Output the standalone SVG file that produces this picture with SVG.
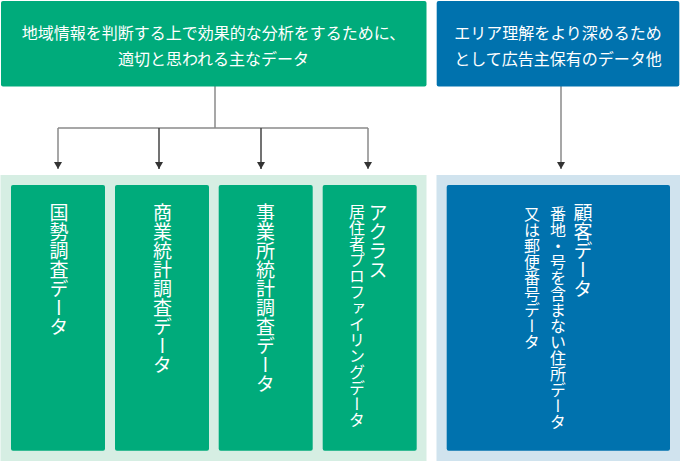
<svg xmlns="http://www.w3.org/2000/svg" width="680" height="461" viewBox="0 0 680 461">
<defs>
<style>
.g{fill:#00ab7b}
.b{fill:#0072ae}
.t{fill:#ffffff;font-family:"Noto Sans CJK JP","Noto Sans",sans-serif}
.h{font-size:16px;text-anchor:middle;dominant-baseline:central}
.v{writing-mode:vertical-rl;dominant-baseline:central}
.v1{font-size:19px}
.v2{font-size:16px}
.ln{fill:none;stroke:#8a8a8a;stroke-width:1.5}
.ld{fill:none;stroke:#444;stroke-width:1.5}
</style>
<marker id="ar" viewBox="0 -4 7 8" markerWidth="7" markerHeight="8" refX="7" refY="0" orient="auto" markerUnits="userSpaceOnUse">
<path d="M0,-4 L7,0 L0,4 z" fill="#333"/>
</marker>
</defs>
<rect x="0.5" y="175" width="426" height="286" fill="#d6eee3"/>
<rect x="436.5" y="175" width="243.5" height="286" fill="#d0e3ee"/>
<g id="connectors">
<path class="ln" d="M215,86 V128 M58,128 H368"/>
<path class="ln" d="M58,128 V169" marker-end="url(#ar)"/>
<path class="ld" d="M159,128 V169" marker-end="url(#ar)"/>
<path class="ld" d="M261,128 V169" marker-end="url(#ar)"/>
<path class="ln" d="M368,128 V169" marker-end="url(#ar)"/>
<path class="ln" d="M561,86 V169" marker-end="url(#ar)"/>
</g>
<g id="top-left">
<rect class="g" x="1" y="1" width="425.5" height="85.5" rx="2"/>
<text class="t h" x="213.5" y="32">地域情報を判断する上で効果的な分析をするために、</text>
<text class="t h" x="213.5" y="58">適切と思われる主なデータ</text>
</g>
<g id="top-right">
<rect class="b" x="436.7" y="1" width="242.6" height="85.5" rx="2"/>
<text class="t h" x="558" y="32">エリア理解をより深めるため</text>
<text class="t h" x="558" y="58">として広告主保有のデータ他</text>
</g>
<g id="kokusei">
<rect class="g" x="11" y="185" width="94" height="265.7" rx="2"/>
<text class="t v v1" x="59" y="203">国勢調査データ</text>
</g>
<g id="shogyo">
<rect class="g" x="115" y="185" width="94" height="265.7" rx="2"/>
<text class="t v v1" x="162.5" y="203">商業統計調査データ</text>
</g>
<g id="jigyosho">
<rect class="g" x="218.7" y="185" width="94" height="265.7" rx="2"/>
<text class="t v v1" x="265.5" y="203">事業所統計調査データ</text>
</g>
<g id="acxiom">
<rect class="g" x="322.7" y="185" width="94" height="265.7" rx="2"/>
<text class="t v v1" x="378" y="203">アクラス</text>
<text class="t v v2" x="357" y="204">居住者プロファイリングデータ</text>
</g>
<g id="kokyaku">
<rect class="b" x="446.7" y="185" width="223.3" height="265.7" rx="2"/>
<text class="t v v1" x="583" y="203">顧客データ</text>
<text class="t v v2" x="558" y="206">番地・号を含まない住所データ</text>
<text class="t v v2" x="532" y="206">又は郵便番号データ</text>
</g>
</svg>
